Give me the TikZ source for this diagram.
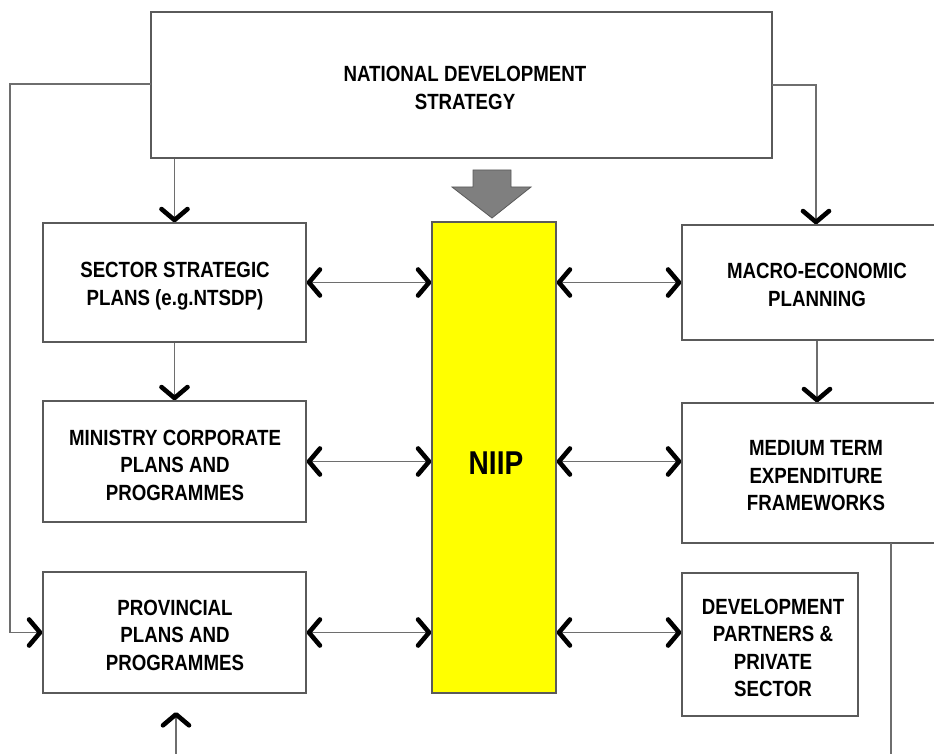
\documentclass[tikz,border=0pt]{standalone}
\usepackage{fontspec}
\newfontfamily\lab[FakeStretch=0.85]{Liberation Sans}
\usetikzlibrary{arrows.meta}
\definecolor{boxline}{HTML}{5A5A5A}
\definecolor{wireline}{HTML}{6E6E6E}
\definecolor{blockgray}{HTML}{7F7F7F}
\definecolor{niipyellow}{HTML}{FFFF00}
\tikzset{
  x=1pt, y=-1pt,
  box/.style={draw=boxline, line width=1.3pt, fill=white, align=center,
    inner sep=0pt, font=\lab\bfseries\fontsize{22}{27.5}\selectfont},
  txt/.style={align=center, inner sep=0pt, font=\lab\bfseries\fontsize{22}{27.5}\selectfont},
  wire/.style={draw=wireline, line width=1.2pt},
  chev/.tip={Straight Barb[length=11pt, width=26pt, line width=4.6pt, round, color=black]},
  barb/.style={-chev},
  dbl/.style={wire, chev-chev}
}
\begin{document}
\begin{tikzpicture}
\useasboundingbox (0,0) rectangle (934,754);
\clip (0,0) rectangle (934,754);

% planning boxes
\node[box, minimum width=621pt, minimum height=146pt] (nds) at (461.5,85) {};
\node[box, minimum width=263pt, minimum height=119pt] (sector) at (174.5,282.5) {};
\node[box, minimum width=263pt, minimum height=121pt] (ministry) at (174.5,461.5) {};
\node[box, minimum width=263pt, minimum height=121pt] (provincial) at (174.5,632.5) {};
\node[box, minimum width=124pt, minimum height=471pt, fill=niipyellow] (niip) at (494,457.5) {};
\node[box, minimum width=270pt, minimum height=115pt] (macro) at (817,282.5) {};
\node[box, minimum width=270pt, minimum height=140pt] (mtef) at (817,473) {};
\node[box, minimum width=176pt, minimum height=143pt] (partners) at (770,644.5) {};

% box captions
\node[txt] (ndstext) at (465,88) {NATIONAL DEVELOPMENT\\STRATEGY};
\node[txt] (sectortext) at (175,286) {SECTOR STRATEGIC\\PLANS (e.g.NTSDP)};
\node[txt] (ministrytext) at (175,465) {MINISTRY CORPORATE\\PLANS AND\\PROGRAMMES};
\node[txt] (provincialtext) at (175,635) {PROVINCIAL\\PLANS AND\\PROGRAMMES};
\node[txt, font=\lab\bfseries\fontsize{33}{33}\selectfont] (niiptext) at (496,463) {NIIP};
\node[txt] (macrotext) at (817,285) {MACRO-ECONOMIC\\PLANNING};
\node[txt] (mteftext) at (816,476) {MEDIUM TERM\\EXPENDITURE\\FRAMEWORKS};
\node[txt] (partnerstext) at (773,648) {DEVELOPMENT\\PARTNERS \&\\PRIVATE\\SECTOR};

% block arrow feeding the NIIP
\draw[fill=blockgray, draw=boxline, line width=0.8pt]
  (473,170) -- (511,170) -- (511,187) -- (531,187) -- (492,218) -- (452,187) -- (473,187) -- cycle;

% free ends of connectors
\coordinate (ndsL) at (151,84);
\coordinate (ndsR) at (772,85);
\coordinate (leftrail) at (10,84);
\coordinate (rightrail) at (816,85);
\coordinate (below) at (176,760);
\coordinate (belowtip) at (176,712);
\coordinate (mtefout) at (891,543);
\coordinate (mtefend) at (891,760);

% strategy cascades
\draw[wire, barb] (ndsL) -- (leftrail) |- (provincial.west);
\draw[wire, barb] (ndsR) -- (rightrail) -- (rightrail |- macro.north);
\draw[wire, barb] (sector.north |- nds.south) -- (sector.north);
\draw[wire, barb] (sector.south) -- (ministry.north);
\draw[wire, barb] (macro.south) -- (macro.south |- mtef.north);
\draw[wire, barb] (below) -- (belowtip);
\draw[wire] (mtefout) -- (mtefend);

% two-way links with the NIIP
\draw[dbl] (sector.east) -- (sector.east -| niip.west);
\draw[dbl] (ministry.east) -- (ministry.east -| niip.west);
\draw[dbl] (provincial.east) -- (provincial.east -| niip.west);
\draw[dbl] (sector.east -| niip.east) -- (sector.east -| macro.west);
\draw[dbl] (ministry.east -| niip.east) -- (ministry.east -| mtef.west);
\draw[dbl] (provincial.east -| niip.east) -- (provincial.east -| partners.west);
\end{tikzpicture}
\end{document}
